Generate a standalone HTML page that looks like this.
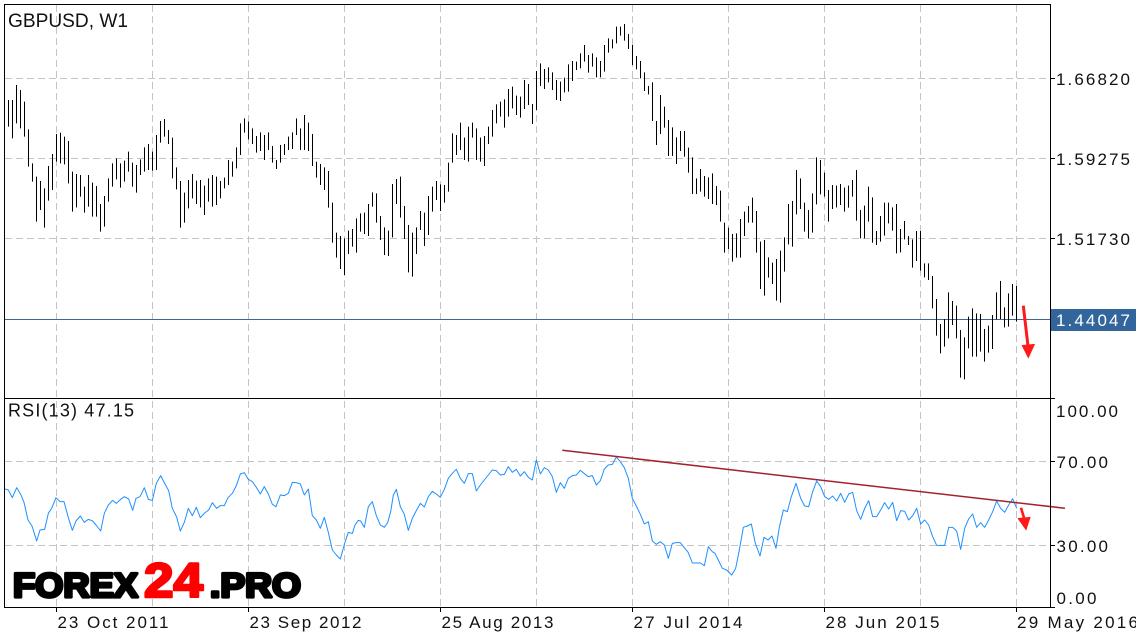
<!DOCTYPE html>
<html>
<head>
<meta charset="utf-8">
<style>
html,body{margin:0;padding:0;background:#fff;}
svg{display:block;}
text{font-family:"Liberation Sans",Arial,sans-serif;}
</style>
</head>
<body>
<svg width="1136" height="640" viewBox="0 0 1136 640" xmlns="http://www.w3.org/2000/svg">
<rect x="0" y="0" width="1136" height="640" fill="#fff"/>

<!-- grid -->
<g stroke="#c4c4c4" stroke-width="1" stroke-dasharray="7 4" shape-rendering="crispEdges" fill="none">
<path d="M56.5 5V607M152.5 5V607M248.5 5V607M344.5 5V607M440.5 5V607M536.5 5V607M632.5 5V607M728.5 5V607M824.5 5V607M920.5 5V607M1016.5 5V607"/>
<path d="M5 78.5H1050M5 158.5H1050M5 238.5H1050M5 461.5H1050M5 545.5H1050"/>
</g>

<!-- current price line -->
<path d="M5 319.5H1050" stroke="#3f6590" stroke-width="1" shape-rendering="crispEdges"/>

<!-- price bars -->
<g stroke="#000" stroke-width="1" fill="none" shape-rendering="crispEdges">
<path transform="translate(0,70) scale(1,0.333333)" d="M8.5 90V170M12.5 90V205M16.5 45V160M20.5 60V175M24.5 95V200M28.5 178V290M32.5 280V335M36.5 320V455M40.5 333V420M44.5 355V473M48.5 288V392M52.5 252V360M56.5 192V275M60.5 188V280M64.5 200V283M68.5 213V340M72.5 305V425M76.5 312V412M80.5 315V380M84.5 350V428M88.5 315V410M92.5 338V440M96.5 348V440M100.5 402V485M104.5 378V470M108.5 325V395M112.5 280V350M116.5 265V328M120.5 280V353M124.5 272V335M128.5 245V305M132.5 278V350M136.5 285V368M140.5 268V315M144.5 232V305M148.5 222V300M152.5 245V302M156.5 195V300M160.5 153V218M164.5 147V200M168.5 180V222M172.5 203V325M176.5 292V358M180.5 333V473M184.5 368V458M188.5 330V415M192.5 312V385M196.5 332V402M200.5 330V412M204.5 347V435M208.5 325V395M212.5 315V410M216.5 320V405M220.5 333V385M224.5 323V355M228.5 270V345M232.5 275V320M236.5 232V295M240.5 160V255M244.5 145V188M248.5 155V208M252.5 175V222"/>
<path transform="translate(0,20) scale(1,0.333333)" d="M256.5 348V398M260.5 337V393M264.5 345V420M268.5 337V390M272.5 378V428M276.5 420V447M280.5 375V428M284.5 372V405M288.5 350V390M292.5 337V387M296.5 295V345M300.5 325V390M304.5 285V390M308.5 308V393M312.5 342V438M316.5 425V473M320.5 432V495M324.5 442V510M328.5 453V563M332.5 548V668M336.5 638V713M340.5 648V747M344.5 655V765M348.5 632V702M352.5 627V680M356.5 595V698M360.5 580V635M364.5 578V642M368.5 552V648M372.5 517V560M376.5 520V608M380.5 588V660M384.5 622V705M388.5 632V708M392.5 492V652M396.5 477V552M400.5 470V593M404.5 558V657M408.5 615V757M412.5 638V770M416.5 622V702M420.5 573V630M424.5 578V678M428.5 528V645M432.5 500V575M436.5 483V540M440.5 493V573M444.5 495V548M448.5 428V515M452.5 340V428M456.5 345V405M460.5 308V390M464.5 353V420M468.5 320V425M472.5 308V353M476.5 325V420M480.5 353V425M484.5 348V438M488.5 320V372M492.5 270V350M496.5 253V310M500.5 245V290M504.5 238V323M508.5 207V290"/>
<path transform="translate(0,15) scale(1,0.333333)" d="M512.5 215V280M516.5 242V300M520.5 245V308M524.5 195V282M528.5 207V270M532.5 267V327M536.5 168V285M540.5 145V213M544.5 162V222M548.5 157V202M552.5 172V225M556.5 195V255M560.5 200V258M564.5 188V232M568.5 148V230M572.5 138V198M576.5 140V165M580.5 115V160M584.5 90V140M588.5 120V173M592.5 115V155M596.5 127V187M600.5 138V187M604.5 90V170M608.5 70V113M612.5 73V100M616.5 35V85M620.5 35V62M624.5 27V77M628.5 57V102M632.5 90V150M636.5 123V163M640.5 138V190M644.5 172V228M648.5 213V238M652.5 202V318M656.5 318V390M660.5 240V357M664.5 275V338M668.5 315V423M672.5 337V423M676.5 367V447M680.5 348V408M684.5 348V425M688.5 398V473M692.5 427V537M696.5 490V537M700.5 462V530M704.5 483V545M708.5 487V552M712.5 475V567M716.5 513V570M720.5 527V620M724.5 623V713M728.5 638V702M732.5 657V740M736.5 655V728M740.5 612V728M744.5 590V663M748.5 573V623M752.5 548V623M756.5 588V713M760.5 680V822M764.5 675V842"/>
<path transform="translate(0,150) scale(1,0.333333)" d="M768.5 322V383M772.5 338V402M776.5 327V452M780.5 302V458M784.5 262V365M788.5 162V283M792.5 153V290M796.5 60V193M800.5 85V177M804.5 158V245M808.5 180V265M812.5 130V248M816.5 22V163M820.5 30V133M824.5 68V140M828.5 120V215M832.5 105V177M836.5 107V172M840.5 102V165M844.5 113V185M848.5 107V173M852.5 90V140M856.5 60V212M860.5 180V265M864.5 167V265M868.5 110V215M872.5 142V278M876.5 243V285M880.5 198V275M884.5 158V257M888.5 158V220M892.5 172V242M896.5 162V310M900.5 237V307M904.5 213V268M908.5 258V285M912.5 268V353M916.5 243V333M920.5 243V362M924.5 340V382M928.5 340V390M932.5 378V475M936.5 447V557M940.5 522V610M944.5 507V590M948.5 427V565M952.5 453V525M956.5 467V565M960.5 540V683M964.5 562V688M968.5 500V595M972.5 475V620M976.5 490V620M980.5 492V605M984.5 537V635M988.5 527V608M992.5 495V597M996.5 427V508M1000.5 393V507M1004.5 472V532M1008.5 430V530M1012.5 402V497M1016.5 408V515"/>
</g>

<!-- RSI line -->
<g transform="translate(0,445) scale(0.333333)">
<polyline fill="none" stroke="#1e90ff" stroke-width="1" vector-effect="non-scaling-stroke" stroke-linejoin="round" points="15,132 25,135 37,158 50,128 62,148 72,172 84,225 96,243 102,262 110,288 120,255 134,253 145,205 155,190 168,158 180,170 192,170 205,218 217,256 228,228 241,213 253,232 265,223 278,228 288,240 302,258 313,205 325,180 338,166 349,175 362,163 373,155 386,162 398,196 408,160 420,155 433,128 445,163 457,166 469,115 482,92 494,115 506,137 517,190 530,216 541,258 553,232 565,190 577,212 589,187 601,218 614,204 626,195 637,173 650,190 661,182 673,182 684,158 697,145 709,122 721,87 733,83 745,103 757,110 769,127 781,147 793,125 805,147 817,178 828,185 841,150 853,152 865,145 877,112 889,113 901,117 913,150 925,132 937,212 949,225 961,250 973,217 985,262 997,315 1009,330 1021,342 1033,298 1045,262 1057,265 1065,240 1075,226 1082,228 1093,247 1105,185 1117,170 1129,212 1141,240 1153,247 1163,233 1172,200 1180,150 1189,133 1201,185 1213,208 1225,256 1237,220 1249,197 1261,175 1273,186 1285,155 1297,139 1309,147 1321,157 1333,133 1345,100 1357,85 1369,73 1381,100 1393,115 1405,86 1417,86 1429,138 1441,120 1453,105 1465,90 1477,75 1489,77 1501,90 1513,88 1525,65 1537,82 1549,73 1561,93 1573,80 1585,97 1597,105 1609,45 1621,87 1633,68 1645,75 1657,95 1669,142 1681,113 1693,130 1705,100 1717,92 1729,90 1741,76 1753,86 1765,95 1777,92 1789,120 1801,107 1813,72 1825,60 1837,58 1849,36 1861,50 1873,68 1885,100 1897,160 1909,183 1921,208 1933,237 1945,230 1957,288 1969,298 1981,290 1993,300 2005,340 2017,295 2029,293 2041,293 2053,308 2065,323 2077,354 2089,354 2101,354 2113,362 2125,305 2137,320 2145,325 2155,345 2167,370 2180,375 2195,390 2207,370 2218,315 2230,247 2242,243 2254,237 2266,295 2280,333 2292,277 2304,285 2316,273 2328,310 2338,247 2350,195 2362,200 2374,155 2388,115 2402,160 2414,183 2426,185 2438,140 2450,108 2462,125 2474,155 2486,163 2498,153 2510,168 2522,145 2534,172 2546,147 2558,142 2570,197 2582,223 2594,190 2606,167 2618,215 2630,215 2642,195 2654,173 2666,192 2678,172 2690,227 2702,197 2714,199 2726,225 2738,212 2750,190 2762,237 2774,225 2786,240 2798,275 2810,301 2822,301 2834,301 2846,247 2858,247 2870,258 2882,313 2894,250 2906,222 2918,207 2930,247 2942,233 2954,247 2966,225 2978,200 2990,168 3002,190 3014,202 3026,180 3038,161 3050,190"/>
</g>

<!-- RSI trend line -->
<path d="M562.3 450.3L1065 508.3" stroke="#a3222c" stroke-width="1.5" fill="none"/>

<!-- red arrows -->
<g fill="#ff1a1a" stroke="#ff1a1a">
<path d="M1023.3 305.7L1028 346" stroke-width="3" fill="none"/>
<polygon points="1022.3,345.5 1034.3,344.5 1028.3,357.5" stroke-width="1"/>
<path d="M1021 507.7L1024.3 519" stroke-width="2.6" fill="none"/>
<polygon points="1018.3,518.5 1030,517.5 1026,529.5" stroke-width="1"/>
</g>

<!-- frame -->
<g stroke="#000" stroke-width="1.2" fill="none" shape-rendering="crispEdges">
<path d="M4.5 4.5H1050.5V607.5H4.5Z"/>
<path d="M4.5 398.5H1055"/>
<path d="M1050 78.5H1055M1050 158.5H1055M1050 238.5H1055M1050 461.5H1055M1050 545.5H1055M1050 607.5H1055"/>
<path d="M56.5 608V612M248.5 608V612M440.5 608V612M632.5 608V612M824.5 608V612M1016.5 608V612"/>
</g>

<!-- price label box -->
<rect x="1051" y="309" width="85" height="22" fill="#31659b"/>

<!-- texts -->
<g fill="#111">
<text x="8" y="27" font-size="19" textLength="120" lengthAdjust="spacingAndGlyphs">GBPUSD, W1</text>
<text x="8" y="416.7" font-size="18" textLength="126" lengthAdjust="spacing">RSI(13) 47.15</text>

<text x="1056" y="85" font-size="17" textLength="74" lengthAdjust="spacing">1.66820</text>
<text x="1056" y="165" font-size="17" textLength="74" lengthAdjust="spacing">1.59275</text>
<text x="1056" y="245" font-size="17" textLength="74" lengthAdjust="spacing">1.51730</text>
<text x="1056" y="326" font-size="17" textLength="74" lengthAdjust="spacing" fill="#fff">1.44047</text>
<text x="1056" y="417" font-size="17" textLength="62" lengthAdjust="spacing">100.00</text>
<text x="1056.5" y="468" font-size="17" textLength="51.5" lengthAdjust="spacing">70.00</text>
<text x="1056.5" y="552" font-size="17" textLength="51.5" lengthAdjust="spacing">30.00</text>
<text x="1056.5" y="604" font-size="17" textLength="40" lengthAdjust="spacing">0.00</text>

<text x="57.5" y="628" font-size="17" textLength="111" lengthAdjust="spacing">23 Oct 2011</text>
<text x="249.5" y="628" font-size="17" textLength="112" lengthAdjust="spacing">23 Sep 2012</text>
<text x="441.5" y="628" font-size="17" textLength="112" lengthAdjust="spacing">25 Aug 2013</text>
<text x="633.5" y="628" font-size="17" textLength="109" lengthAdjust="spacing">27 Jul 2014</text>
<text x="825.5" y="628" font-size="17" textLength="114" lengthAdjust="spacing">28 Jun 2015</text>
<text x="1017" y="628" font-size="17" textLength="121" lengthAdjust="spacing">29 May 2016</text>
</g>

<!-- logo -->
<g font-weight="bold">
<text x="13" y="597" font-size="34" fill="#000" stroke="#000" stroke-width="3.2" stroke-linejoin="round" textLength="125" lengthAdjust="spacingAndGlyphs">FOREX</text>
<text x="144" y="597" font-size="48" fill="#ff0000" stroke="#ff0000" stroke-width="2.6" stroke-linejoin="round" textLength="59" lengthAdjust="spacingAndGlyphs">24</text>
<text x="210" y="597" font-size="34" fill="#000" stroke="#000" stroke-width="3.2" stroke-linejoin="round" textLength="91" lengthAdjust="spacingAndGlyphs">.PRO</text>
</g>
</svg>
</body>
</html>
